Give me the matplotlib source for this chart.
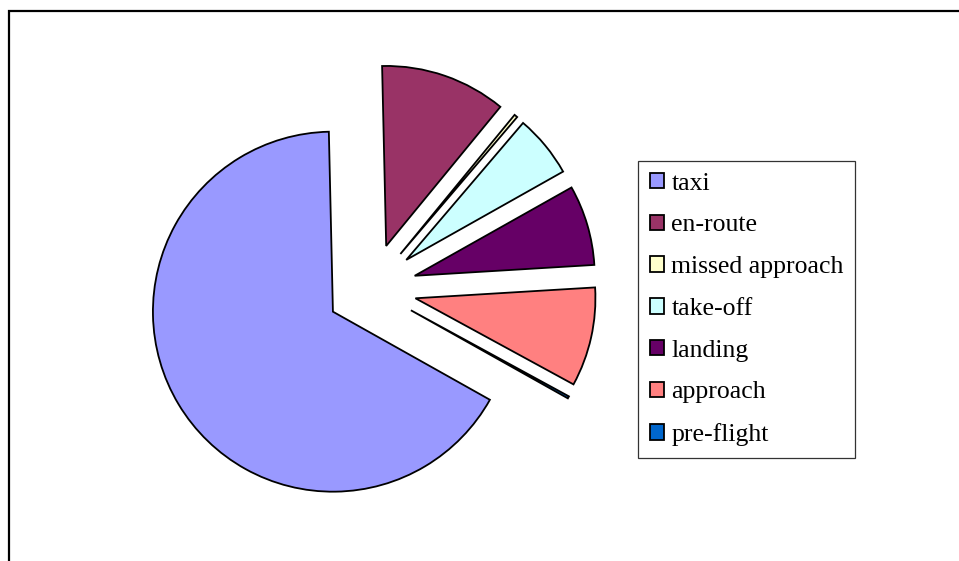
import matplotlib
matplotlib.use("Agg")
import matplotlib.pyplot as plt
from matplotlib.patches import Rectangle

phases = ["taxi", "en-route", "missed approach", "take-off",
          "landing", "approach", "pre-flight"]
shares = [66.5, 11.3, 0.3, 5.6, 7.2, 8.9, 0.2]
colors = ["#9999FF", "#993366", "#FFFFCC", "#CCFFFF",
          "#660066", "#FF8080", "#0066CC"]

W, H = 959, 561
fig = plt.figure(figsize=(W / 100, H / 100), dpi=100)
ax = fig.add_axes([0, 0, 1, 1])

# pie drawn in pixel-like data units so explode/radius are easy to match
wedges, _ = ax.pie(shares, colors=colors, startangle=-29.3, counterclock=False,
                   center=(371.5, 272.5), radius=180, explode=[45] * len(shares),
                   wedgeprops=dict(edgecolor="black", linewidth=1.3))
ax.set_xlim(0, W)
ax.set_ylim(0, H)
ax.set_aspect("equal")
ax.axis("off")

leg = ax.legend(wedges, phases, loc="upper left",
                bbox_to_anchor=(638 / W, 1 - 161 / H), bbox_transform=fig.transFigure,
                borderaxespad=0, frameon=True, fancybox=False, shadow=False,
                prop={"family": "Liberation Serif", "size": 18.5},
                handlelength=0.55, handleheight=0.55, handletextpad=0.3,
                labelspacing=0.77, borderpad=0.45)
leg.get_frame().set_edgecolor("black")
leg.get_frame().set_linewidth(0.9)

# chart border, cut off at right and bottom like the original
fig.add_artist(Rectangle((9 / W, -0.1), 1.2, (H - 11) / H + 0.1, transform=fig.transFigure,
                         fill=False, edgecolor="black", linewidth=1.6))

fig.savefig("out.png", dpi=100)
